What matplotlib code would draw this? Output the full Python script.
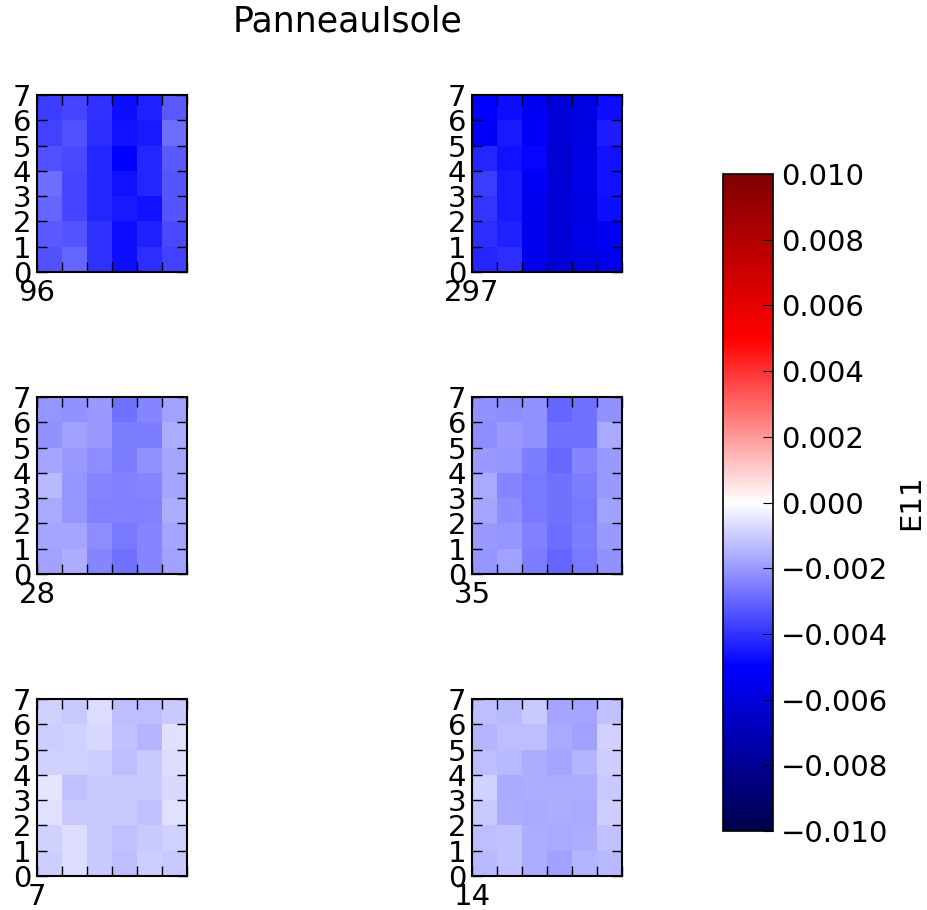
import numpy as np
import matplotlib
matplotlib.use("Agg")
import matplotlib.pyplot as plt
from matplotlib.ticker import FuncFormatter

# Values in units of 1e-3 (E11 strain); rows listed from top (y=6) to bottom (y=0)
SCALE = 1e-3
labels = ["96", "297", "28", "35", "7", "14"]

p96 = [[-3.82, -3.63, -4.02, -4.71, -4.31, -3.24],
       [-3.73, -3.43, -4.12, -4.61, -4.51, -2.84],
       [-3.43, -3.53, -4.22, -5.00, -4.22, -3.24],
       [-2.84, -3.63, -4.22, -4.61, -4.22, -3.33],
       [-3.04, -3.63, -4.22, -4.51, -4.61, -3.33],
       [-3.24, -3.33, -4.02, -4.71, -4.31, -3.53],
       [-3.43, -3.04, -4.02, -4.71, -4.12, -3.73]]
p297 = [[-5.00, -4.71, -5.28, -6.12, -5.84, -4.71],
        [-5.14, -4.51, -5.14, -6.12, -5.84, -4.41],
        [-4.22, -4.61, -4.90, -6.26, -5.70, -4.61],
        [-3.82, -4.51, -5.28, -6.12, -5.70, -4.61],
        [-3.92, -4.51, -5.42, -6.12, -5.84, -4.71],
        [-4.12, -4.31, -5.42, -6.12, -5.70, -5.28],
        [-4.22, -4.12, -5.42, -6.12, -5.84, -5.42]]
p28 = [[-2.06, -2.16, -1.96, -2.75, -2.35, -1.86],
       [-2.16, -1.86, -1.96, -2.55, -2.55, -1.57],
       [-1.76, -1.96, -2.25, -2.55, -2.16, -1.76],
       [-1.37, -2.06, -2.35, -2.45, -2.35, -1.76],
       [-1.67, -2.06, -2.45, -2.45, -2.45, -1.57],
       [-1.76, -1.76, -2.25, -2.65, -2.35, -1.76],
       [-1.86, -1.57, -2.35, -2.75, -2.35, -1.86]]
p35 = [[-2.16, -2.25, -2.16, -3.04, -2.75, -2.16],
       [-2.25, -1.96, -2.16, -2.75, -2.75, -1.67],
       [-1.96, -2.06, -2.55, -2.94, -2.35, -1.96],
       [-1.67, -2.35, -2.65, -2.75, -2.55, -1.96],
       [-1.76, -2.25, -2.65, -2.75, -2.65, -1.86],
       [-1.96, -2.06, -2.45, -2.84, -2.55, -1.96],
       [-2.06, -1.86, -2.55, -3.04, -2.65, -2.16]]
p7 = [[-0.88, -1.08, -0.69, -1.27, -1.27, -1.08],
      [-0.98, -0.88, -0.78, -1.18, -1.47, -0.59],
      [-0.88, -0.88, -0.98, -1.27, -1.08, -0.69],
      [-0.49, -1.18, -1.08, -1.08, -1.08, -0.78],
      [-0.59, -1.08, -1.08, -1.08, -1.18, -0.59],
      [-0.88, -0.69, -1.08, -1.18, -1.08, -0.88],
      [-0.98, -0.69, -1.08, -1.27, -0.98, -1.08]]
p14 = [[-1.27, -1.37, -1.08, -1.76, -1.76, -1.18],
       [-1.47, -1.27, -1.27, -1.67, -1.86, -0.88],
       [-1.27, -1.37, -1.57, -1.76, -1.47, -0.98],
       [-0.88, -1.67, -1.57, -1.57, -1.57, -1.08],
       [-1.08, -1.57, -1.67, -1.57, -1.67, -0.98],
       [-1.27, -1.18, -1.57, -1.67, -1.57, -1.18],
       [-1.37, -1.18, -1.57, -1.86, -1.47, -1.37]]
panels = [p96, p297, p28, p35, p7, p14]
cbar_ticks = [-0.010, -0.008, -0.006, -0.004, -0.002, 0.0, 0.002, 0.004, 0.006, 0.008, 0.010]

W, H = 928, 910
fig = plt.figure(figsize=(W / 100, H / 100), dpi=100)
FS = 21

lefts = [37, 472]
tops = [95, 397, 699]
pw, ph = 150, 177

mesh = None
for i, (data, lab) in enumerate(zip(panels, labels)):
    r, c = divmod(i, 2)
    ax = fig.add_axes([lefts[c] / W, 1 - (tops[r] + ph) / H, pw / W, ph / H])
    arr = np.flipud(np.array(data)) * SCALE
    mesh = ax.pcolormesh(np.arange(7), np.arange(8), arr, cmap="seismic",
                         vmin=-0.01, vmax=0.01)
    ax.set_xlim(0, 6)
    ax.set_ylim(0, 7)
    ax.set_xticks([0])
    ax.set_xticklabels([lab])
    ax.set_xticks(range(1, 7), minor=True)
    ax.set_yticks(range(8))
    ax.tick_params(which="both", direction="in", top=True, right=True, length=7,
                   width=1, labelsize=FS, pad=4)
    ax.tick_params(axis="x", which="both", pad=5)
    for s in ax.spines.values():
        s.set_linewidth(1.5)

cax = fig.add_axes([723 / W, 1 - 831 / H, 50 / W, 657 / H])
cb = fig.colorbar(mesh, cax=cax, ticks=cbar_ticks)
cb.ax.yaxis.set_major_formatter(FuncFormatter(lambda v, p: f"{v:.3f}".replace("-", "\u2212")))
cb.ax.tick_params(direction="in", length=7, labelsize=FS, pad=6)
cb.set_label("E11", fontsize=FS, labelpad=6)
cb.outline.set_linewidth(1.2)

fig.text(348 / W, 1 - 22 / H, "PanneauIsole", fontsize=25, ha="center", va="center")

fig.savefig("out.png", dpi=100)
